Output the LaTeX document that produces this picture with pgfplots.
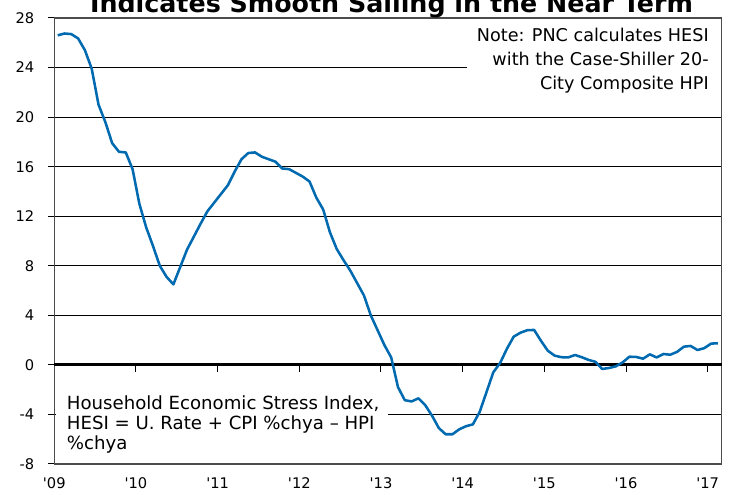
\documentclass[border=0pt]{standalone}
\usepackage{fontspec}
\setmainfont{DejaVu Sans}
\usepackage{pgfplots}
\pgfplotsset{compat=1.18}
\definecolor{hesiblue}{RGB}{0,106,176}
\pgfplotstableread{
i v
0 26.6
1 26.75
2 26.7
3 26.35
4 25.4
5 23.9
6 21.0
7 19.6
8 17.9
9 17.2
10 17.15
11 15.8
12 13.0
13 11.1
14 9.6
15 8.0
16 7.1
17 6.5
18 7.9
19 9.3
20 10.35
21 11.4
22 12.4
23 13.1
24 13.8
25 14.5
26 15.6
27 16.6
28 17.1
29 17.15
30 16.8
31 16.6
32 16.4
33 15.85
34 15.8
35 15.5
36 15.2
37 14.8
38 13.5
39 12.55
40 10.7
41 9.35
42 8.45
43 7.6
44 6.6
45 5.6
46 4.0
47 2.8
48 1.6
49 0.6
50 -1.8
51 -2.85
52 -2.95
53 -2.7
54 -3.25
55 -4.1
56 -5.1
57 -5.6
58 -5.6
59 -5.2
60 -4.95
61 -4.8
62 -3.8
63 -2.2
64 -0.6
65 0.15
66 1.3
67 2.28
68 2.6
69 2.8
70 2.82
71 1.95
72 1.15
73 0.75
74 0.62
75 0.6
76 0.8
77 0.62
78 0.4
79 0.25
80 -0.33
81 -0.25
82 -0.12
83 0.2
84 0.66
85 0.64
86 0.5
87 0.85
88 0.6
89 0.88
90 0.82
91 1.05
92 1.47
93 1.53
94 1.2
95 1.35
96 1.72
97 1.74
}\hesi
\begin{document}
\begin{tikzpicture}
\begin{axis}[
  at={(0,0)}, anchor=south west,
  scale only axis, width=500.5pt, height=334.5pt,
  xmin=-0.5, xmax=97.55, ymin=-8, ymax=28,
  xtick={-0.5,11.5,23.5,35.5,47.5,59.5,71.5,83.5,95.5},
  xticklabels={\textquotesingle 09,\textquotesingle 10,\textquotesingle 11,\textquotesingle 12,\textquotesingle 13,\textquotesingle 14,\textquotesingle 15,\textquotesingle 16,\textquotesingle 17},
  ytick={-8,-4,0,4,8,12,16,20,24,28},
  ytick pos=left,
  ymajorgrids, grid style={black, line width=0.75pt},
  axis line style={black!70, line width=0.8pt},
  tick style={black, line width=0.75pt},
  xtick style={draw=none},
  tick align=outside, major tick length=4.5pt,
  yticklabel style={font=\fontsize{11pt}{13pt}\selectfont, xshift=-7pt},
  xticklabel style={font=\fontsize{11pt}{13pt}\selectfont, yshift=-2pt},
  /pgf/number format/assume math mode=true,
  clip=false,
]
\fill[white] (axis cs:60.1,21.6) rectangle (axis cs:97.45,27.85);
\fill[white] (axis cs:-0.3,-7.7) rectangle (axis cs:48.6,-1.2);
\draw[black, line width=2.25pt] (axis cs:-0.5,0) -- (axis cs:97.55,0);
\pgfplotsinvokeforeach{11.5,23.5,35.5,47.5,59.5,71.5,83.5,95.5}{
  \draw[black, line width=0.75pt] (axis cs:#1,0) -- ++(0pt,-5pt);
}
\addplot[hesiblue, line width=1.9pt, line join=round] table[x=i, y=v] {\hesi};
\end{axis}
\node[anchor=base, font=\fontsize{19pt}{22pt}\selectfont\bfseries] at (252.9pt,338.25pt) {Indicates Smooth Sailing in the Near Term};
\begin{scope}[every node/.style={font=\fontsize{13.2pt}{15pt}\selectfont, inner sep=0pt}]
\node[anchor=base east] at (491pt,316.7pt) {Note: PNC calculates HESI};
\node[anchor=base east] at (491pt,298.5pt) {with the Case-Shiller 20-};
\node[anchor=base east] at (491pt,280.5pt) {City Composite HPI};
\end{scope}
\begin{scope}[every node/.style={font=\fontsize{13.6pt}{15pt}\selectfont, inner sep=0pt}]
\node[anchor=base west] at (9.3pt,41pt) {Household Economic Stress Index,};
\node[anchor=base west] at (9.3pt,25.5pt) {HESI = U. Rate + CPI \%chya -- HPI};
\node[anchor=base west] at (9.3pt,10.5pt) {\%chya};
\end{scope}
\pgfresetboundingbox
\useasboundingbox (-40.725pt,-23.25pt) rectangle (510.525pt,348pt);
\end{tikzpicture}
\end{document}
